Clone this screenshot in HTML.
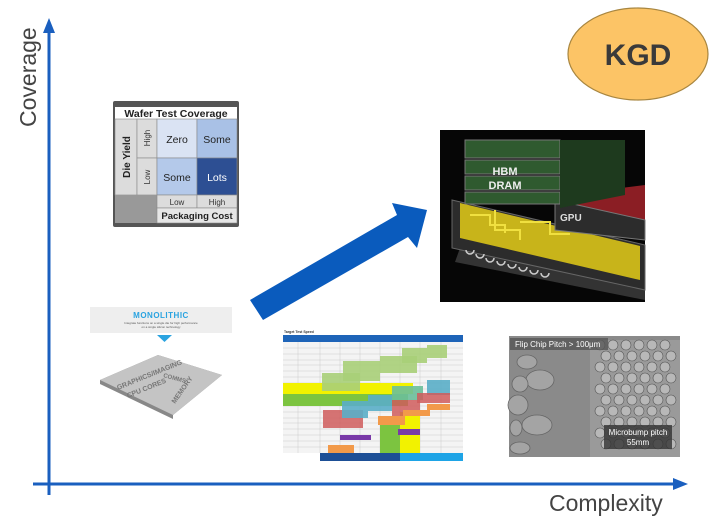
<!DOCTYPE html>
<html><head><meta charset="utf-8"><style>
html,body{margin:0;padding:0;background:#fff;}
svg{display:block;font-family:"Liberation Sans",Arial,sans-serif;}
</style></head><body>
<svg width="720" height="529" viewBox="0 0 720 529" xmlns="http://www.w3.org/2000/svg">
<!-- axes -->
<line x1="49" y1="30" x2="49" y2="495" stroke="#1a5fbf" stroke-width="3"/>
<polygon points="49,18 43,33 55,33" fill="#1a5fbf"/>
<line x1="33" y1="484" x2="675" y2="484" stroke="#1a5fbf" stroke-width="3"/>
<polygon points="688,484 673,478 673,490" fill="#1a5fbf"/>
<text transform="translate(36,127) rotate(-90)" font-size="23" fill="#444">Coverage</text>
<text x="549" y="511" font-size="23" fill="#444">Complexity</text>

<!-- KGD -->
<ellipse cx="638" cy="54" rx="70" ry="46" fill="#fcc466" stroke="#a88640" stroke-width="1.2"/>
<text x="638" y="65" font-size="30" font-weight="bold" fill="#3a3a3a" text-anchor="middle">KGD</text>

<!-- wafer table -->
<rect x="113" y="101" width="126" height="126" fill="#555" rx="2"/>
<rect x="115" y="107" width="122" height="12" fill="#fff"/>
<text x="176" y="117" font-size="10.5" font-weight="bold" fill="#222" text-anchor="middle">Wafer Test Coverage</text>
<rect x="115" y="119" width="22" height="76" fill="#dcdcdc" stroke="#888" stroke-width="0.6"/>
<text transform="translate(130,157) rotate(-90)" font-size="10" font-weight="bold" fill="#222" text-anchor="middle">Die Yield</text>
<rect x="137" y="119" width="20" height="39" fill="#dcdcdc" stroke="#888" stroke-width="0.6"/>
<rect x="137" y="158" width="20" height="37" fill="#dcdcdc" stroke="#888" stroke-width="0.6"/>
<text transform="translate(150,138) rotate(-90)" font-size="8" fill="#333" text-anchor="middle">High</text>
<text transform="translate(150,177) rotate(-90)" font-size="8" fill="#333" text-anchor="middle">Low</text>
<rect x="157" y="119" width="40" height="39" fill="#dae3f3" stroke="#888" stroke-width="0.6"/>
<rect x="197" y="119" width="40" height="39" fill="#a9c1e6" stroke="#888" stroke-width="0.6"/>
<rect x="157" y="158" width="40" height="37" fill="#b4c9ea" stroke="#888" stroke-width="0.6"/>
<rect x="197" y="158" width="40" height="37" fill="#2d4f93" stroke="#888" stroke-width="0.6"/>
<text x="177" y="143" font-size="10.5" fill="#222" text-anchor="middle">Zero</text>
<text x="217" y="143" font-size="10.5" fill="#222" text-anchor="middle">Some</text>
<text x="177" y="181" font-size="10.5" fill="#222" text-anchor="middle">Some</text>
<text x="217" y="181" font-size="10.5" fill="#fff" text-anchor="middle">Lots</text>
<rect x="115" y="195" width="42" height="28" fill="#999"/>
<rect x="157" y="195" width="40" height="13" fill="#dcdcdc" stroke="#888" stroke-width="0.6"/>
<rect x="197" y="195" width="40" height="13" fill="#dcdcdc" stroke="#888" stroke-width="0.6"/>
<text x="177" y="205" font-size="8" fill="#333" text-anchor="middle">Low</text>
<text x="217" y="205" font-size="8" fill="#333" text-anchor="middle">High</text>
<rect x="157" y="208" width="80" height="15" fill="#e6e6e6" stroke="#888" stroke-width="0.6"/>
<text x="197" y="219" font-size="9.5" font-weight="bold" fill="#222" text-anchor="middle">Packaging Cost</text>

<!-- big arrow -->
<polygon points="250,300 397,215 392,203 427,210 417,248 408,237 263,320" fill="#0a5bbd"/>

<!-- chip image -->
<rect x="440" y="130" width="205" height="172" fill="#060606"/>
<g>
 <polygon points="455,262 645,300 645,285 460,248" fill="#333"/>
 <polygon points="452,200 645,245 645,290 452,248" fill="#2c2c2c" stroke="#666" stroke-width="1"/>
 <polygon points="460,203 640,246 640,280 460,238" fill="#c8b41a"/>
 <path d="M470,215 h20 v10 h15 v8 M495,210 v20 h25 v10 M520,222 h30 v12 h20" stroke="#f0e040" stroke-width="2" fill="none"/>
 <polygon points="565,195 645,185 645,240 565,230" fill="#8b1e24"/>
 <polygon points="555,200 645,220 645,240 555,230" fill="#2c2c2c" stroke="#777" stroke-width="1"/>
 <text x="560" y="221" font-size="10" font-weight="bold" fill="#ddd">GPU</text>
 <rect x="465" y="140" width="95" height="18" fill="#2f5a2f" stroke="#777" stroke-width="1"/>
 <rect x="465" y="160" width="95" height="14" fill="#2f5a2f" stroke="#777" stroke-width="1"/>
 <rect x="465" y="176" width="95" height="14" fill="#2f5a2f" stroke="#777" stroke-width="1"/>
 <rect x="465" y="192" width="95" height="12" fill="#2f5a2f" stroke="#777" stroke-width="1"/>
 <polygon points="560,140 625,140 625,195 560,208" fill="#1e3a1e"/>
 <text x="505" y="175" font-size="11" font-weight="bold" fill="#eee" text-anchor="middle">HBM</text>
 <text x="505" y="189" font-size="11" font-weight="bold" fill="#eee" text-anchor="middle">DRAM</text>
 <g fill="none" stroke="#ccc" stroke-width="1.5">
  <path d="M466,250 a4,4 0 0 0 8,0"/><path d="M476,254 a4,4 0 0 0 8,0"/><path d="M486,258 a4,4 0 0 0 8,0"/><path d="M497,261 a4,4 0 0 0 8,0"/><path d="M508,264 a4,4 0 0 0 8,0"/><path d="M519,267 a4,4 0 0 0 8,0"/><path d="M530,270 a4,4 0 0 0 8,0"/><path d="M541,273 a4,4 0 0 0 8,0"/>
 </g>
</g>

<!-- monolithic -->
<rect x="90" y="307" width="142" height="26" fill="#eeeeee"/>
<text x="161" y="318" font-size="8" font-weight="bold" fill="#2aa3e0" text-anchor="middle" letter-spacing="0.5">MONOLITHIC</text>
<text x="161" y="324" font-size="3" fill="#555" text-anchor="middle">Integrate functions on a single die for high performance</text>
<text x="161" y="328" font-size="3" fill="#555" text-anchor="middle">on a single silicon technology</text>
<polygon points="157,335 172,335 164.5,342" fill="#2aa3e0"/>
<polygon points="100,380 158,355 222,375 173,415 173,419 100,384" fill="#888"/>
<polygon points="100,380 158,355 222,375 173,415" fill="#c4c4c4"/>
<text transform="translate(118,390) rotate(-22)" font-size="7" font-weight="bold" fill="#777">GRAPHICS/IMAGING</text>
<text transform="translate(128,398) rotate(-22)" font-size="7" font-weight="bold" fill="#777">CPU CORES</text>
<text transform="translate(163,377) rotate(15)" font-size="6" font-weight="bold" fill="#777">COMMS</text>
<text transform="translate(175,404) rotate(-55)" font-size="7" font-weight="bold" fill="#777">MEMORY</text>

<!-- chart -->
<g font-size="2.5">
<text x="284" y="333" font-size="3.5" font-weight="bold" fill="#333">Target Test Speed</text>
<rect x="283" y="335" width="180" height="7" fill="#1e64b8"/>
<rect x="283" y="342" width="180" height="111" fill="#f4f4f4"/>
<g stroke="#ccc" stroke-width="0.5">
<line x1="283" y1="348" x2="463" y2="348"/><line x1="283" y1="354" x2="463" y2="354"/><line x1="283" y1="360" x2="463" y2="360"/><line x1="283" y1="365" x2="463" y2="365"/><line x1="283" y1="371" x2="463" y2="371"/><line x1="283" y1="377" x2="463" y2="377"/><line x1="283" y1="383" x2="463" y2="383"/><line x1="283" y1="389" x2="463" y2="389"/><line x1="283" y1="394" x2="463" y2="394"/><line x1="283" y1="400" x2="463" y2="400"/><line x1="283" y1="406" x2="463" y2="406"/><line x1="283" y1="412" x2="463" y2="412"/><line x1="283" y1="418" x2="463" y2="418"/><line x1="283" y1="423" x2="463" y2="423"/><line x1="283" y1="429" x2="463" y2="429"/><line x1="283" y1="435" x2="463" y2="435"/><line x1="283" y1="441" x2="463" y2="441"/><line x1="283" y1="447" x2="463" y2="447"/>
<line x1="298" y1="342" x2="298" y2="453"/><line x1="320" y1="342" x2="320" y2="453"/><line x1="340" y1="342" x2="340" y2="453"/><line x1="360" y1="342" x2="360" y2="453"/><line x1="380" y1="342" x2="380" y2="453"/><line x1="400" y1="342" x2="400" y2="453"/><line x1="420" y1="342" x2="420" y2="453"/><line x1="441" y1="342" x2="441" y2="453"/>
</g>
<rect x="283" y="383" width="130" height="11" fill="#f2f200"/>
<rect x="283" y="394" width="125" height="12" fill="#7cc440"/>
<rect x="380" y="418" width="20" height="35" fill="#7cc440"/>
<rect x="400" y="412" width="20" height="41" fill="#f2f200"/>
<rect x="322" y="373" width="38" height="18" fill="#a8cf78" opacity="0.9"/>
<rect x="343" y="361" width="37" height="20" fill="#a8cf78" opacity="0.9"/>
<rect x="380" y="356" width="37" height="17" fill="#a8cf78" opacity="0.9"/>
<rect x="402" y="348" width="25" height="15" fill="#a8cf78" opacity="0.9"/>
<rect x="427" y="345" width="20" height="13" fill="#a8cf78" opacity="0.9"/>
<rect x="323" y="410" width="40" height="18" fill="#cf5c5c" opacity="0.85"/>
<rect x="342" y="401" width="26" height="17" fill="#5aaec8" opacity="0.9"/>
<rect x="368" y="395" width="24" height="16" fill="#5aaec8" opacity="0.9"/>
<rect x="392" y="386" width="31" height="14" fill="#6cbf9a" opacity="0.9"/>
<rect x="392" y="400" width="28" height="16" fill="#cf5c5c" opacity="0.85"/>
<rect x="427" y="380" width="23" height="15" fill="#5aaec8" opacity="0.9"/>
<rect x="417" y="393" width="33" height="10" fill="#cf5c5c" opacity="0.85"/>
<rect x="427" y="404" width="23" height="6" fill="#f29a4a"/>
<rect x="403" y="410" width="27" height="6" fill="#f29a4a"/>
<rect x="378" y="416" width="27" height="9" fill="#f29a4a"/>
<rect x="340" y="435" width="31" height="5" fill="#7a3aa8"/>
<rect x="398" y="429" width="22" height="6" fill="#7a3aa8"/>
<rect x="328" y="445" width="26" height="8" fill="#f29a4a"/>
<rect x="320" y="453" width="80" height="8" fill="#1d4f96"/>
<rect x="400" y="453" width="63" height="8" fill="#1ea4e6"/>
</g>

<!-- SEM -->
<rect x="509" y="336" width="171" height="121" fill="#8a8a8a"/>
<g fill="#a4a4a4" stroke="#666" stroke-width="0.8">
<ellipse cx="527" cy="362" rx="10" ry="7"/><ellipse cx="540" cy="380" rx="14" ry="10"/><ellipse cx="520" cy="384" rx="8" ry="8"/><ellipse cx="518" cy="405" rx="10" ry="10"/><ellipse cx="537" cy="425" rx="15" ry="10"/><ellipse cx="516" cy="428" rx="6" ry="8"/><ellipse cx="520" cy="448" rx="10" ry="6"/>
</g>
<rect x="590" y="340" width="90" height="117" fill="#9a9a9a"/>
<g fill="#b8b8b8" stroke="#555" stroke-width="0.6">
<circle cx="600" cy="345" r="5"/><circle cx="613" cy="345" r="5"/><circle cx="626" cy="345" r="5"/><circle cx="639" cy="345" r="5"/><circle cx="652" cy="345" r="5"/><circle cx="665" cy="345" r="5"/>
<circle cx="606" cy="356" r="5"/><circle cx="619" cy="356" r="5"/><circle cx="632" cy="356" r="5"/><circle cx="645" cy="356" r="5"/><circle cx="658" cy="356" r="5"/><circle cx="671" cy="356" r="5"/>
<circle cx="600" cy="367" r="5"/><circle cx="613" cy="367" r="5"/><circle cx="626" cy="367" r="5"/><circle cx="639" cy="367" r="5"/><circle cx="652" cy="367" r="5"/><circle cx="665" cy="367" r="5"/>
<circle cx="606" cy="378" r="5"/><circle cx="619" cy="378" r="5"/><circle cx="632" cy="378" r="5"/><circle cx="645" cy="378" r="5"/><circle cx="658" cy="378" r="5"/><circle cx="671" cy="378" r="5"/>
<circle cx="600" cy="389" r="5"/><circle cx="613" cy="389" r="5"/><circle cx="626" cy="389" r="5"/><circle cx="639" cy="389" r="5"/><circle cx="652" cy="389" r="5"/><circle cx="665" cy="389" r="5"/>
<circle cx="606" cy="400" r="5"/><circle cx="619" cy="400" r="5"/><circle cx="632" cy="400" r="5"/><circle cx="645" cy="400" r="5"/><circle cx="658" cy="400" r="5"/><circle cx="671" cy="400" r="5"/>
<circle cx="600" cy="411" r="5"/><circle cx="613" cy="411" r="5"/><circle cx="626" cy="411" r="5"/><circle cx="639" cy="411" r="5"/><circle cx="652" cy="411" r="5"/><circle cx="665" cy="411" r="5"/>
<circle cx="606" cy="422" r="5"/><circle cx="619" cy="422" r="5"/><circle cx="632" cy="422" r="5"/><circle cx="645" cy="422" r="5"/><circle cx="658" cy="422" r="5"/><circle cx="671" cy="422" r="5"/>
<circle cx="600" cy="433" r="5"/><circle cx="613" cy="433" r="5"/><circle cx="626" cy="433" r="5"/><circle cx="639" cy="433" r="5"/><circle cx="652" cy="433" r="5"/><circle cx="665" cy="433" r="5"/>
<circle cx="606" cy="444" r="5"/><circle cx="619" cy="444" r="5"/><circle cx="632" cy="444" r="5"/><circle cx="645" cy="444" r="5"/><circle cx="658" cy="444" r="5"/><circle cx="671" cy="444" r="5"/>
</g>
<rect x="510" y="338" width="98" height="12" fill="#555" opacity="0.8"/>
<text x="515" y="347" font-size="8" fill="#fff">Flip Chip Pitch &gt; 100μm</text>
<rect x="604" y="425" width="68" height="24" fill="#333" opacity="0.8"/>
<text x="638" y="435" font-size="8" fill="#fff" text-anchor="middle">Microbump pitch</text>
<text x="638" y="445" font-size="8" fill="#fff" text-anchor="middle">55mm</text>
</svg>
</body></html>
